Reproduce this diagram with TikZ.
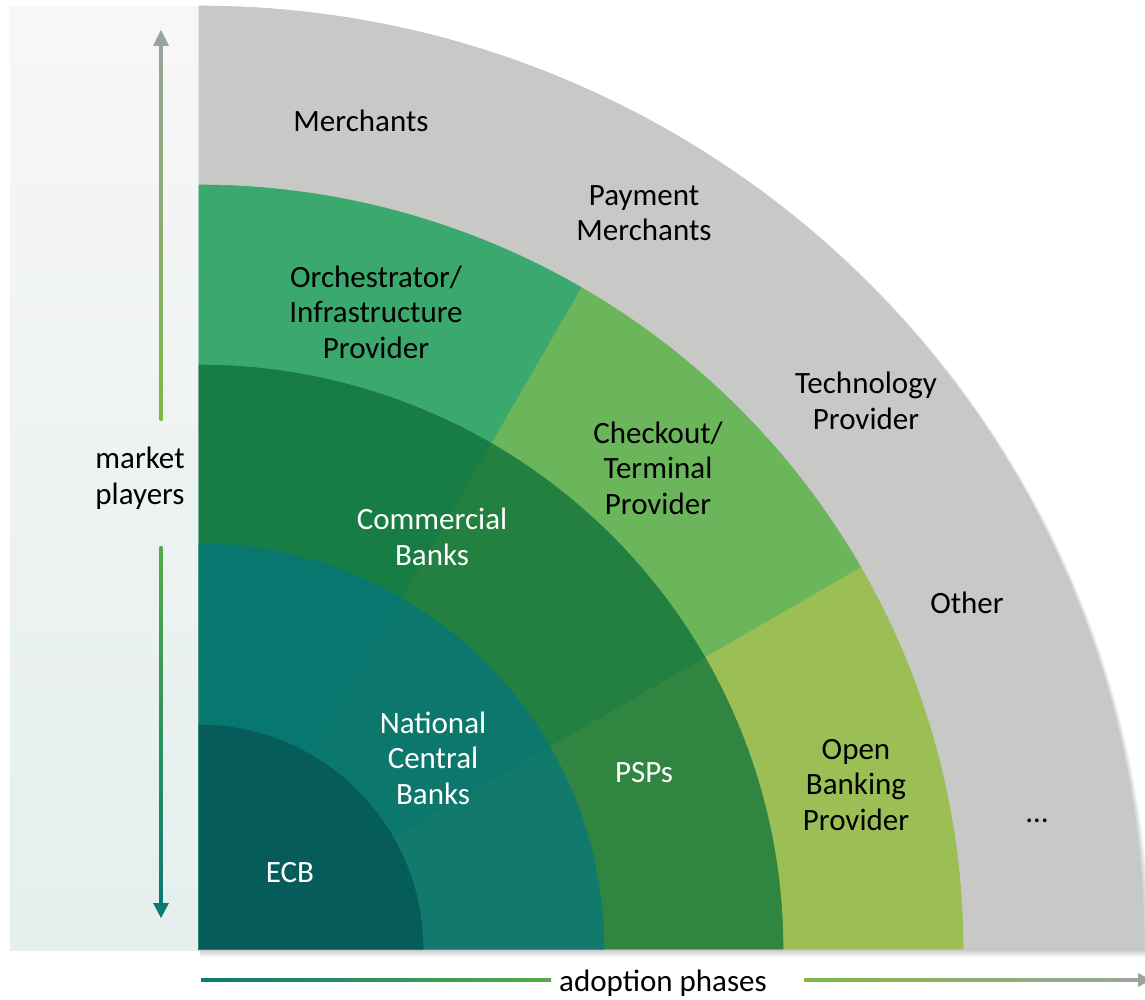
\documentclass[tikz,border=0pt]{standalone}
\usepackage{fontspec}
\setmainfont{Carlito}
\usetikzlibrary{calc}
\definecolor{cGray}{HTML}{C8C8C7}
\definecolor{cOrch}{HTML}{3BA86E}
\definecolor{cCheck}{HTML}{6BB65B}
\definecolor{cOpen}{HTML}{9BBF55}
\definecolor{cComm}{HTML}{187C45}
\definecolor{cMidTwo}{HTML}{238041}
\definecolor{cPSP}{HTML}{308540}
\definecolor{cTealA}{HTML}{08776F}
\definecolor{cTealB}{HTML}{0C786D}
\definecolor{cTealC}{HTML}{117A6D}
\definecolor{cECB}{HTML}{055C5B}
\definecolor{panTop}{HTML}{F7F7F6}
\definecolor{panMid}{HTML}{F0F5EC}
\definecolor{panBot}{HTML}{E4EFEE}
\definecolor{arGray}{HTML}{9BA59B}
\definecolor{arLime}{HTML}{7FB845}
\definecolor{arGreen}{HTML}{55AB48}
\definecolor{arTeal}{HTML}{0B7A73}
\newcommand\qsector[4]{\fill[#1, draw=#1, line width=0.6pt] (C) -- ++(#3:#2) arc[start angle=#3, end angle=#4, radius=#2] -- cycle;}
\begin{document}
\begin{tikzpicture}[x=1pt, y=1pt,
  lbl/.style={font=\fontsize{31}{35.5}\selectfont, align=center, inner sep=0pt, text=black},
  wlbl/.style={lbl, text=white}]
\useasboundingbox (0,0) rectangle (1145,999);
\coordinate (C) at (199,50);
% left panel
\shade[top color=panTop, middle color=panMid, bottom color=panBot] (10,49) rectangle (199,992);
% soft shadow of the quarter
\foreach \k in {1,...,8} {
  \fill[black, opacity=0.03] ($(C)+(1,-\k)$) -- ++(943+\k*0.9,0) arc[start angle=0, end angle=90, radius=943+\k*0.9] -- cycle;
}
% rings
\qsector{cGray}{943}{0}{90}
\qsector{cOpen}{764}{0}{30}
\qsector{cCheck}{764}{30}{60}
\qsector{cOrch}{764}{60}{90}
\qsector{cPSP}{584}{0}{30}
\qsector{cMidTwo}{584}{30}{60}
\qsector{cComm}{584}{60}{90}
\qsector{cTealC}{405}{0}{30}
\qsector{cTealB}{405}{30}{60}
\qsector{cTealA}{405}{60}{90}
\qsector{cECB}{224}{0}{90}
% labels
\node[lbl] (merch) at (361,878) {Merchants};
\node[lbl] (paym) at (644,786) {Payment\\Merchants};
\node[lbl] (tech) at (866,598) {Technology\\Provider};
\node[lbl] (other) at (967,396) {Other};
\node[lbl] (dots) at (1037,178) {…};
\node[lbl] (orch) at (376,687) {Orchestrator/\\Infrastructure\\Provider};
\node[lbl] (check) at (658,531) {Checkout/\\Terminal\\Provider};
\node[lbl] (open) at (856,214) {Open\\Banking\\Provider};
\node[wlbl] (comm) at (432,462) {Commercial\\Banks};
\node[wlbl] (psp) at (644,226) {PSPs};
\node[wlbl] (ncb) at (433,241) {National\\Central\\Banks};
\node[wlbl] (ecb) at (290,126) {ECB};
\node[lbl] (market) at (140,521) {market\\players};
\node[lbl] (adopt) at (663,15.5) {adoption phases};
% vertical axis arrow
\coordinate (vTopTip) at (161,969);
\coordinate (vTopBase) at (161,953);
\coordinate (vUpEnd) at (161,578);
\coordinate (vLowStart) at (161,452);
\coordinate (vBotBase) at (161,96);
\coordinate (vBotTip) at (161,81);
\shade[top color=arGray, bottom color=arLime] ($(vUpEnd)+(-1.4,0)$) rectangle ($(vTopBase)+(1.4,0.5)$);
\shade[top color=arGreen, bottom color=arTeal] ($(vBotBase)+(-1.4,-0.5)$) rectangle ($(vLowStart)+(1.4,0)$);
\fill[arGray] (vTopTip) -- ($(vTopBase)+(-8,0)$) -- ($(vTopBase)+(8,0)$) -- cycle;
\fill[arTeal] (vBotTip) -- ($(vBotBase)+(-8,0)$) -- ($(vBotBase)+(8,0)$) -- cycle;
% horizontal axis arrow
\coordinate (hStart) at (201,19);
\coordinate (hLeftEnd) at (551,19);
\coordinate (hRightStart) at (804,19);
\coordinate (hBase) at (1138,19);
\coordinate (hTip) at (1151,19);
\shade[left color=arTeal, right color=arGreen] ($(hStart)+(0,-1.3)$) rectangle ($(hLeftEnd)+(0,1.3)$);
\shade[left color=arLime, right color=arGray] ($(hRightStart)+(0,-1.3)$) rectangle ($(hBase)+(0.5,1.3)$);
\fill[arGray] (hTip) -- ($(hBase)+(0,7)$) -- ($(hBase)+(0,-7)$) -- cycle;
\end{tikzpicture}
\end{document}
